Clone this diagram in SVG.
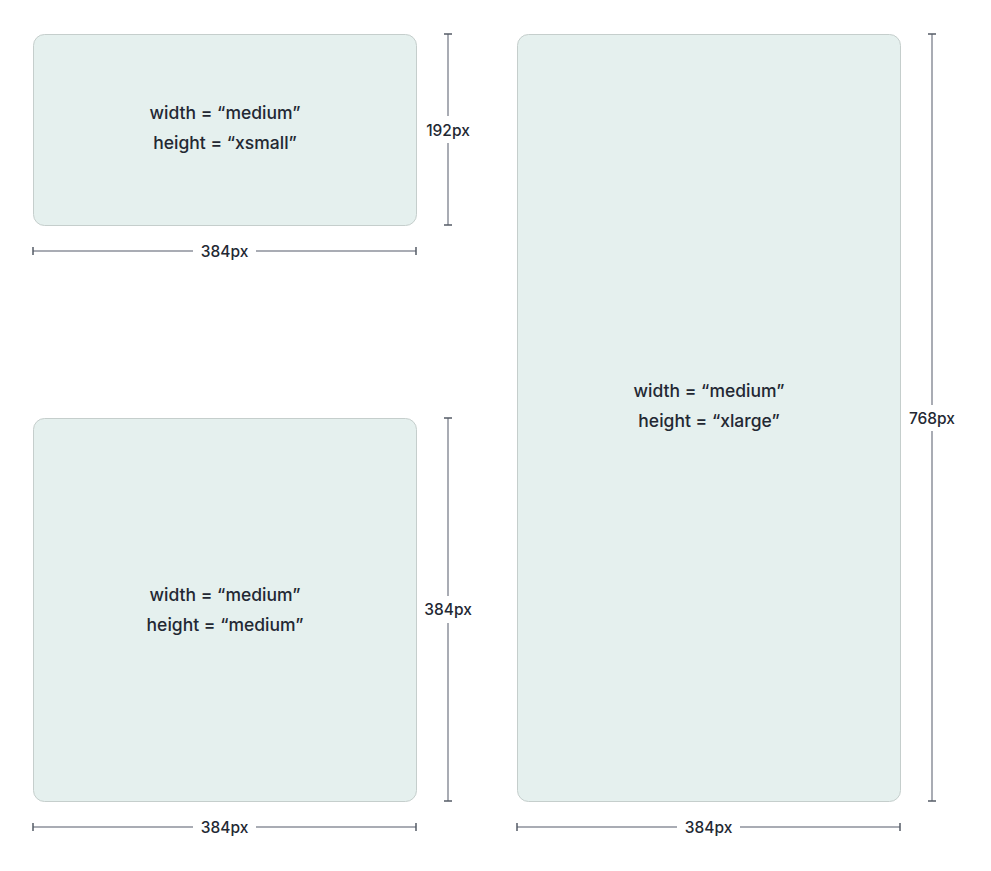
<svg xmlns="http://www.w3.org/2000/svg" width="991" height="871" viewBox="0 0 991 871">
<style>
.box{fill:#e5f0ee;stroke:#c5cecc;stroke-width:1}
.lbl{font-family:Inter,"Noto Sans",sans-serif;font-size:17.5px;font-weight:500;fill:#232833;text-anchor:middle}
.dim{stroke:#8c919b;stroke-width:1.5;fill:none}
.tick{stroke:#555b66;stroke-width:1.5}
.dl{font-family:Inter,"Noto Sans",sans-serif;font-size:15.5px;font-weight:500;fill:#232833;text-anchor:middle;dominant-baseline:central}
</style>
<rect width="991" height="871" fill="#ffffff"/>
<g id="node-xsmall">
<rect class="box" x="33.5" y="34.5" width="383" height="191" rx="11"/>
<text class="lbl" x="225" y="119">width = “medium”</text>
<text class="lbl" x="225" y="149">height = “xsmall”</text>
</g>
<g id="node-medium">
<rect class="box" x="33.5" y="418.5" width="383" height="383" rx="11"/>
<text class="lbl" x="225" y="601">width = “medium”</text>
<text class="lbl" x="225" y="631">height = “medium”</text>
</g>
<g id="node-xlarge">
<rect class="box" x="517.5" y="34.5" width="383" height="767" rx="11"/>
<text class="lbl" x="709" y="397">width = “medium”</text>
<text class="lbl" x="709" y="427">height = “xlarge”</text>
</g>
<g id="connectors">
<line class="dim" x1="448" y1="34" x2="448" y2="116"/>
<line class="dim" x1="448" y1="143" x2="448" y2="225"/>
<line class="tick" x1="444" y1="34" x2="452" y2="34"/>
<line class="tick" x1="444" y1="225" x2="452" y2="225"/>
<text class="dl" x="448" y="130">192px</text>
<line class="dim" x1="33" y1="251" x2="193" y2="251"/>
<line class="dim" x1="256" y1="251" x2="416" y2="251"/>
<line class="tick" x1="33" y1="247" x2="33" y2="255"/>
<line class="tick" x1="416" y1="247" x2="416" y2="255"/>
<text class="dl" x="224.5" y="251">384px</text>
<line class="dim" x1="448" y1="418" x2="448" y2="596"/>
<line class="dim" x1="448" y1="623" x2="448" y2="801"/>
<line class="tick" x1="444" y1="418" x2="452" y2="418"/>
<line class="tick" x1="444" y1="801" x2="452" y2="801"/>
<text class="dl" x="448" y="609.5">384px</text>
<line class="dim" x1="33" y1="827" x2="193" y2="827"/>
<line class="dim" x1="256" y1="827" x2="416" y2="827"/>
<line class="tick" x1="33" y1="823" x2="33" y2="831"/>
<line class="tick" x1="416" y1="823" x2="416" y2="831"/>
<text class="dl" x="224.5" y="827">384px</text>
<line class="dim" x1="932" y1="34" x2="932" y2="405"/>
<line class="dim" x1="932" y1="431" x2="932" y2="801"/>
<line class="tick" x1="928" y1="34" x2="936" y2="34"/>
<line class="tick" x1="928" y1="801" x2="936" y2="801"/>
<text class="dl" x="932" y="418">768px</text>
<line class="dim" x1="517" y1="827" x2="677" y2="827"/>
<line class="dim" x1="740" y1="827" x2="900" y2="827"/>
<line class="tick" x1="517" y1="823" x2="517" y2="831"/>
<line class="tick" x1="900" y1="823" x2="900" y2="831"/>
<text class="dl" x="708.5" y="827">384px</text>
</g>
</svg>
